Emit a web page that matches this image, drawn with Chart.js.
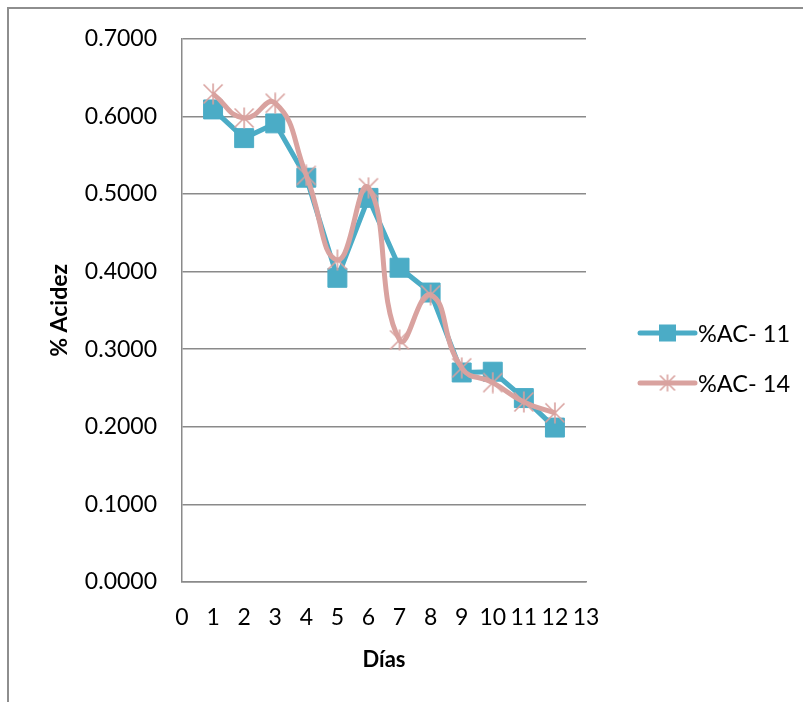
<!DOCTYPE html>
<html>
<head>
<meta charset="utf-8">
<script src="https://cdn.jsdelivr.net/npm/chart.js@4/dist/chart.umd.min.js"></script>
<style>
  html, body { margin: 0; padding: 0; background: #fff; }
  #wrap { position: relative; width: 803px; height: 702px; overflow: hidden; }
  #frame { position: absolute; left: 7px; top: 7px; width: 820px; height: 720px;
           border-left: 2px solid #8e8e8e; border-top: 2px solid #8e8e8e; }
  #c { position: absolute; left: 0; top: 0; }
</style>
</head>
<body>
<div id="wrap">
  <div id="frame"></div>
  <canvas id="c" width="803" height="702"></canvas>
</div>
<script>
// Days of measurement and acidity per sample
const dias = [1, 2, 3, 4, 5, 6, 7, 8, 9, 10, 11, 12];
const acidezAC11 = [0.609, 0.572, 0.591, 0.521, 0.392, 0.495, 0.405, 0.373, 0.270, 0.271, 0.237, 0.199];
const acidezAC14 = [0.629, 0.598, 0.617, 0.524, 0.415, 0.508, 0.312, 0.370, 0.276, 0.257, 0.232, 0.218];
const nombresSeries = ['%AC- 11', '%AC- 14'];
const yTicks = [0, 0.1, 0.2, 0.3, 0.4, 0.5, 0.6, 0.7];
const xTicks = [0, 1, 2, 3, 4, 5, 6, 7, 8, 9, 10, 11, 12, 13];

const TEAL = '#4BACC6';
const PINK = '#D9A29F';
const GRID = '#8a8a8a';
const FONT = 'Lato, "Open Sans", sans-serif';

// Asterisk marker (X plus vertical stroke)
function makeStar(size, color, lw) {
  const cv = document.createElement('canvas');
  cv.width = size; cv.height = size;
  const g = cv.getContext('2d');
  g.strokeStyle = color; g.lineWidth = lw; g.lineCap = 'butt';
  const m = 1.5, s = size - 1.5, h = size / 2;
  g.beginPath();
  g.moveTo(m, m); g.lineTo(s, s);
  g.moveTo(s, m); g.lineTo(m, s);
  g.moveTo(h, 0.5); g.lineTo(h, size - 0.5);
  g.stroke();
  return cv;
}
const starMarker = makeStar(22, PINK, 1.6);
const starLegend = makeStar(18, PINK, 1.6);

const toXY = (ys) => ys.map((v, i) => ({ x: dias[i], y: v }));

// Legend drawn as line + marker + label, stacked on the right
const lineLegend = {
  id: 'lineLegend',
  afterDraw(chart) {
    const ctx = chart.ctx;
    const ca = chart.chartArea;
    const x0 = ca.right + 54, x1 = ca.right + 109;
    const rows = [333, 383];
    ctx.save();
    chart.data.datasets.forEach((ds, i) => {
      const y = rows[i];
      ctx.strokeStyle = ds.borderColor;
      ctx.lineWidth = 5;
      ctx.lineCap = 'round';
      ctx.beginPath(); ctx.moveTo(x0, y); ctx.lineTo(x1, y); ctx.stroke();
      const cx = (x0 + x1) / 2;
      if (i === 0) {
        ctx.fillStyle = TEAL;
        ctx.fillRect(cx - 8.5, y - 8.5, 17, 17);
      } else {
        ctx.drawImage(starLegend, cx - 9, y - 9);
      }
      ctx.fillStyle = '#000';
      ctx.font = '23.5px ' + FONT;
      ctx.textAlign = 'left';
      ctx.textBaseline = 'middle';
      ctx.fillText(ds.label, x1 + 3, y + 1);
    });
    ctx.restore();
  }
};

new Chart(document.getElementById('c'), {
  type: 'line',
  data: {
    datasets: [
      {
        label: nombresSeries[0],
        data: toXY(acidezAC11),
        borderColor: TEAL,
        backgroundColor: TEAL,
        borderWidth: 5,
        borderJoinStyle: 'round',
        tension: 0,
        pointStyle: 'rect',
        pointRadius: 13.4,
        pointBorderWidth: 1,
        pointBackgroundColor: TEAL,
        pointBorderColor: TEAL,
        order: 2
      },
      {
        label: nombresSeries[1],
        data: toXY(acidezAC14),
        borderColor: PINK,
        backgroundColor: PINK,
        borderWidth: 5,
        borderJoinStyle: 'round',
        cubicInterpolationMode: 'default',
        tension: 0.5,
        pointStyle: starMarker,
        pointRadius: 11,
        order: 1
      }
    ]
  },
  options: {
    responsive: false,
    animation: false,
    events: [],
    layout: { padding: { left: 0, top: 38, right: 217, bottom: 0 } },
    plugins: { legend: { display: false }, tooltip: { enabled: false } },
    scales: {
      x: {
        type: 'linear',
        min: xTicks[0],
        max: xTicks[xTicks.length - 1],
        afterBuildTicks: (s) => { s.ticks = xTicks.map(v => ({ value: v })); },
        afterFit: (s) => { s.height = 120; },
        grid: { display: false, drawTicks: false },
        border: { display: true, color: GRID, width: 1.5 },
        ticks: { color: '#000', padding: 22, maxRotation: 0, autoSkip: false,
                 font: { family: FONT, size: 23 } },
        title: { display: true, text: 'Días', color: '#000', padding: { top: 0, bottom: 29 },
                 font: { family: FONT, size: 22, weight: 'bold' } }
      },
      y: {
        min: yTicks[0],
        max: yTicks[yTicks.length - 1],
        afterBuildTicks: (s) => { s.ticks = yTicks.map(v => ({ value: v })); },
        afterFit: (s) => { s.width = 182; },
        grid: { color: GRID, lineWidth: 1.5, drawTicks: false },
        border: { display: true, color: GRID, width: 1.5 },
        ticks: { color: '#000', padding: 25, autoSkip: false,
                 callback: (v) => Number(v).toFixed(4),
                 font: { family: FONT, size: 23 } },
        title: { display: true, text: '% Acidez', color: '#000', padding: { top: 46, bottom: 0 },
                 font: { family: FONT, size: 23, weight: 'bold' } }
      }
    }
  },
  plugins: [lineLegend]
});
</script>
</body>
</html>
